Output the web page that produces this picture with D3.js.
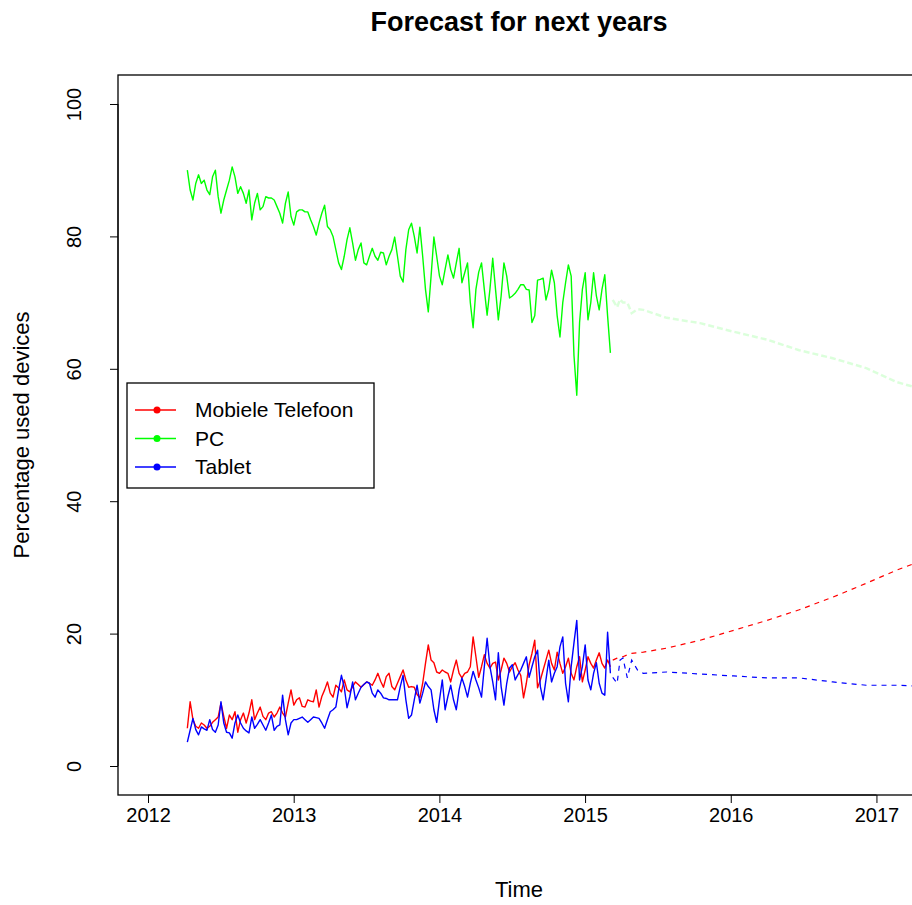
<!DOCTYPE html>
<html>
<head>
<meta charset="utf-8">
<script src="https://cdn.jsdelivr.net/npm/d3@7"></script>
<style>
  html, body { margin: 0; padding: 0; background: #ffffff; }
  svg { display: block; }
  text { font-family: "Liberation Sans", Arial, sans-serif; fill: #000; }
</style>
</head>
<body>
<div id="chart"></div>
<script>
// ---------------- DATA ----------------
const chartTitle = "Forecast for next years";
const xLabel = "Time";
const yLabel = "Percentage used devices";
const seriesNames = ["Mobiele Telefoon", "PC", "Tablet"];
const seriesColors = ["#ff0000", "#00ff00", "#0000ff"];
const startYear = 2012.27;   // first weekly observation
const frequency = 52;        // weekly data
const xTicks = [2012, 2013, 2014, 2015, 2016, 2017];
const yTicks = [0, 20, 40, 60, 80, 100];

const mobile = [
  5.7, 9.7, 7, 6, 5.7, 6.5, 6.2, 5.7, 6, 6.6,
  7, 7.4, 9.5, 7.5, 5.7, 7.7, 7, 8.2, 5.1, 7,
  8, 6.5, 8, 10, 7, 8, 8.9, 7.5, 7, 8,
  8.2, 7.4, 8, 8.9, 8, 7.4, 9.5, 11.5, 9.2, 10,
  10.3, 9, 8.9, 10, 9.8, 9.7, 11.5, 8.9, 10.5, 11.5,
  12.7, 11, 10.4, 12.2, 11.8, 11.2, 13, 11.5, 11.2, 12,
  12.7, 12.3, 11.9, 12.3, 12.7, 12.5, 12.2, 13, 14, 12.8,
  11.9, 13.5, 14, 12, 11.5, 12.5, 13.5, 14.5, 13, 11.9,
  12, 11.9, 10.8, 10.3, 12.5, 15.5, 18.3, 16, 15.6, 14.2,
  14, 14.5, 14.2, 14, 12.7, 14.5, 16, 14, 13.3, 14,
  14.2, 15, 19.5, 16.5, 13.4, 15, 16.8, 15.5, 14.8, 15.5,
  15.7, 13, 14.5, 16.3, 15.5, 14.2, 15, 15.6, 14.5, 13.7,
  10.3, 12.5, 15.3, 17, 19, 11.8, 13, 14.5, 16, 17.5,
  15.5, 14.5, 17.2, 15.5, 14, 15, 16.3, 14, 13, 15,
  16.5, 12.7, 14.5, 16.5, 15.5, 14.8, 16, 17.1, 15.5, 14.8,
  16, 15
];

const pc = [
  90, 87, 85.5, 88, 89.3, 88, 88.5, 87, 86.3, 89,
  90, 86, 83.5, 85.5, 87, 88.5, 90.5, 89, 86.5, 87.5,
  86.5, 85, 87, 82.5, 85, 86.5, 84, 84.5, 86, 85.8,
  85.8, 85.5, 84.5, 83.5, 82, 85, 86.7, 83, 81.7, 83.7,
  84, 84, 83.7, 83.7, 82.5, 81.5, 80.2, 82, 83.5, 84.7,
  81.5, 81, 80, 78, 76, 75, 77, 79.5, 81.3, 79,
  76.4, 78, 79, 76, 75.7, 77, 78.2, 77, 76.4, 77.6,
  77.5, 75.7, 77, 78, 79.9, 77, 74, 73.1, 78, 81,
  82, 80, 77.5, 81.4, 77, 72, 68.6, 74, 79.9, 77,
  74, 72.7, 75, 77.2, 75, 73.7, 76, 78.2, 73, 74.5,
  76, 70, 66.2, 72, 74.6, 76, 72, 68.1, 72, 76.7,
  72, 67.4, 71, 76, 74, 70.7, 71, 71.4, 72, 72.7,
  72.7, 72, 71.9, 67, 68, 73.4, 73.5, 73.7, 70.4, 72,
  74.9, 73, 68, 64.8, 70, 73, 75.7, 74, 62, 56,
  67, 72, 74.5, 67.4, 70, 74.5, 71, 68.9, 72, 74.2,
  68, 62.4
];

const tablet = [
  3.6, 5.4, 7.2, 5.5, 4.7, 5.9, 5.6, 5.4, 7, 5.5,
  5.1, 6.2, 9.7, 6.5, 5.1, 5, 4.2, 6.5, 7.7, 6.5,
  5.7, 5.3, 5, 7.4, 5.7, 6.3, 7, 6.2, 5.4, 6.5,
  7.7, 5.4, 6, 6.2, 10.7, 7, 4.7, 6.5, 7, 7,
  7.2, 7.4, 7, 6.6, 7, 7.4, 7.3, 7.2, 6.5, 5.7,
  7, 8.2, 8.5, 8.9, 11.5, 13.7, 11.9, 8.8, 10.5, 12.7,
  10, 11, 11.9, 12.3, 12.7, 12.5, 11, 10.4, 11.5, 11,
  10.3, 10.2, 10, 10, 10, 10, 12, 13.7, 10, 7.2,
  7.7, 10, 12.2, 9.5, 11, 12.7, 12, 11.5, 8.5, 6.6,
  10, 13, 8.5, 10.5, 12.2, 10, 8.5, 11.5, 13.3, 12,
  10.4, 12.5, 14.3, 13, 11.8, 10.4, 15, 19.3, 15, 12.7,
  10, 17.1, 12, 9.2, 12.5, 14.8, 15.3, 13, 13.8, 14.5,
  15.5, 16.5, 13.4, 15, 16.5, 17.5, 12, 10, 13, 16,
  12.7, 14, 15, 18, 19.5, 12.5, 9.7, 15, 18.6, 22,
  13, 15, 18.3, 13, 11.5, 14, 15.6, 12.5, 11, 10.7,
  20.2, 14
];

// forecast (dashed)
const fcTime   = [2015.19, 2015.22, 2015.24, 2015.26, 2015.29, 2015.32, 2015.36, 2015.40, 2015.56, 2015.79, 2016.02, 2016.25, 2016.47, 2016.70, 2016.93, 2017.14, 2017.25];
const fcMobile = [16, 16.3, 16.5, 16.5, 16.8, 17, 17.1, 17.2, 17.8, 19, 20.5, 22, 23.6, 25.5, 27.6, 29.6, 30.5];
const fcPC     = [70.4, 69.3, 70.5, 70, 70, 68.4, 69, 68.9, 67.7, 66.9, 65.6, 64.4, 62.8, 61.6, 60.1, 58, 57.3];
const fcTablet = [13.4, 12.5, 16, 16.3, 13.3, 16, 14.5, 14, 14.2, 13.9, 13.6, 13.3, 13.3, 12.7, 12.2, 12.2, 12.1];

// ---------------- CHART ----------------
const W = 912, H = 905;
const plot = { left: 118, top: 75, right: 920, bottom: 795 };

const svg = d3.select("#chart").append("svg").attr("width", W).attr("height", H);

const x = d3.scaleLinear().domain([2011.794, 2017.299]).range([plot.left, plot.right]);
const y = d3.scaleLinear().domain([-4.38, 104.38]).range([plot.bottom, plot.top]);

svg.append("defs").append("clipPath").attr("id", "clip")
  .append("rect").attr("x", plot.left).attr("y", plot.top)
  .attr("width", plot.right - plot.left).attr("height", plot.bottom - plot.top);

const line = d3.line().x(d => x(d.t)).y(d => y(d.v));
const toObs = arr => arr.map((v, i) => ({ t: startYear + i / frequency, v }));
const toFc = arr => arr.map((v, i) => ({ t: fcTime[i], v }));

const g = svg.append("g").attr("clip-path", "url(#clip)");

// forecasts
g.append("path").datum(toFc(fcPC)).attr("d", line)
  .attr("fill", "none").attr("stroke", "#00ff00").attr("stroke-opacity", 0.14)
  .attr("stroke-width", 2.5).attr("stroke-dasharray", "6,3");
g.append("path").datum(toFc(fcMobile)).attr("d", line)
  .attr("fill", "none").attr("stroke", "#ff0000").attr("stroke-width", 1.2)
  .attr("stroke-dasharray", "5,5");
g.append("path").datum(toFc(fcTablet)).attr("d", line)
  .attr("fill", "none").attr("stroke", "#0000ff").attr("stroke-width", 1.2)
  .attr("stroke-dasharray", "5,5");

// observed
[[pc, 1], [mobile, 0], [tablet, 2]].forEach(([arr, k]) => {
  g.append("path").datum(toObs(arr)).attr("d", line)
    .attr("fill", "none").attr("stroke", seriesColors[k])
    .attr("stroke-width", 1.4).attr("stroke-linejoin", "round");
});

// plot box
svg.append("rect").attr("x", plot.left).attr("y", plot.top)
  .attr("width", plot.right - plot.left).attr("height", plot.bottom - plot.top)
  .attr("fill", "none").attr("stroke", "#000").attr("stroke-width", 1.3);

// x axis (R style)
const xAxis = d3.axisBottom(x).tickValues(xTicks).tickFormat(d3.format("d")).tickSize(8).tickPadding(5);
const xa = svg.append("g").attr("transform", `translate(0,${plot.bottom})`).call(xAxis);
xa.select(".domain").remove();
xa.append("line").attr("x1", x(xTicks[0])).attr("x2", x(xTicks[xTicks.length - 1]))
  .attr("stroke", "#000");
xa.selectAll("text").attr("font-size", 20).attr("font-family", "Liberation Sans, Arial, sans-serif").attr("fill", "#000");

// y axis (R style, rotated labels)
const yAxis = d3.axisLeft(y).tickValues(yTicks).tickFormat(d3.format("d")).tickSize(8);
const ya = svg.append("g").attr("transform", `translate(${plot.left},0)`).call(yAxis);
ya.select(".domain").remove();
ya.selectAll("text").remove();
ya.append("line").attr("y1", y(yTicks[0])).attr("y2", y(yTicks[yTicks.length - 1])).attr("stroke", "#000");
ya.selectAll(".tick").append("text")
  .attr("transform", "translate(-37,0) rotate(-90)")
  .attr("text-anchor", "middle").attr("dy", "0em")
  .attr("font-size", 20).attr("fill", "#000")
  .text(d => d);

// title and axis labels
svg.append("text").attr("x", (plot.left + plot.right) / 2).attr("y", 31)
  .attr("text-anchor", "middle").attr("font-weight", "bold").attr("font-size", 27)
  .text(chartTitle);
svg.append("text").attr("x", (plot.left + plot.right) / 2).attr("y", 897)
  .attr("text-anchor", "middle").attr("font-size", 22).text(xLabel);
svg.append("text").attr("transform", `translate(29,${(plot.top + plot.bottom) / 2}) rotate(-90)`)
  .attr("text-anchor", "middle").attr("font-size", 22).text(yLabel);

// legend
const lg = svg.append("g");
lg.append("rect").attr("x", 127).attr("y", 383).attr("width", 247).attr("height", 105)
  .attr("fill", "#fff").attr("stroke", "#000").attr("stroke-width", 1.3);
const legY = d3.scalePoint().domain(seriesNames).range([410, 467]);
seriesNames.forEach((name, k) => {
  const yy = legY(name);
  lg.append("line").attr("x1", 135).attr("x2", 176).attr("y1", yy).attr("y2", yy)
    .attr("stroke", seriesColors[k]).attr("stroke-width", 1.3);
  lg.append("circle").attr("cx", 157).attr("cy", yy).attr("r", 3.5).attr("fill", seriesColors[k]);
  lg.append("text").attr("x", 195).attr("y", yy + 7).attr("font-size", 21).text(name);
});
</script>
</body>
</html>
